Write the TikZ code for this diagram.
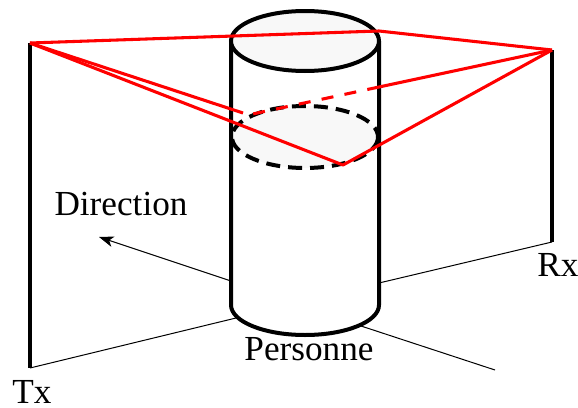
\documentclass[tikz,border=0pt]{standalone}
\usepackage{fontspec}
\setmainfont{Liberation Serif}
\usetikzlibrary{arrows.meta}
\definecolor{cylfill}{HTML}{F8F8F8}
\definecolor{rayred}{HTML}{FF0000}
\tikzset{
  thickline/.style={line width=3pt,black},
  pole/.style={line width=2.3pt,black},
  thinline/.style={line width=0.75pt,black},
  ray/.style={line width=2.3pt,rayred,line join=round},
  rayDashed/.style={ray,dash pattern=on 9pt off 8.5pt},
  hidden/.style={thickline,fill=cylfill,dash pattern=on 10.5pt off 6pt},
  lbl/.style={inner sep=0pt,font=\fontsize{26.4}{26.4}\selectfont}
}
\begin{document}
\begin{tikzpicture}[x=0.75pt,y=-0.75pt]
\useasboundingbox (0,0) rectangle (578,407);
% named points
\coordinate (txtop) at (30,43);
\coordinate (txbot) at (30,368);
\coordinate (rxtop) at (552,50);
\coordinate (rxbot) at (552,242);
\coordinate (cylL) at (231,41);
\coordinate (cylR) at (379,41);
\coordinate (botL) at (231,305);
\coordinate (botR) at (379,305);
\coordinate (hitTop) at (379,31);
\coordinate (hitBack) at (379,87);
\coordinate (hitBackL) at (248,115);
\coordinate (hitLeft) at (243,113);
\coordinate (hitFront) at (343,165);
\coordinate (groundTxEnd) at (236,318);
\coordinate (dirStart) at (231,281);
\coordinate (dirTip) at (99,237);
\coordinate (groundRx) at (379,283);
\coordinate (frontA) at (361,326);
\coordinate (frontB) at (495,370);
% thin ground lines
\draw[thinline] (txbot) -- (groundTxEnd);
\draw[thinline,-{Stealth[length=11pt,width=8pt,inset=3pt]}] (dirStart) -- (dirTip);
\draw[thinline] (groundRx) -- (rxbot);
\draw[thinline] (frontA) -- (frontB);
% poles
\draw[pole] (txtop) -- (txbot);
\draw[pole] (rxtop) -- (rxbot);
% middle dashed ellipse
\draw[hidden] (305,137) ellipse [x radius=73,y radius=31];
% cylinder
\draw[thickline,line join=round] (cylL) -- (botL) arc[start angle=180,end angle=0,x radius=74,y radius=30] -- (cylR);
\draw[thickline,fill=cylfill] (305,41) ellipse [x radius=74,y radius=30];
% rays
\draw[ray] (txtop) -- (hitTop) -- (rxtop);
\draw[ray] (txtop) -- (hitLeft);
\draw[ray] (txtop) -- (hitFront) -- (rxtop);
\draw[ray] (rxtop) -- (hitBack);
\draw[rayDashed] (hitBack) -- (hitBackL);
% labels
\node[lbl] (tx) at (32,392) {Tx};
\node[lbl] (rx) at (558,265) {Rx};
\node[lbl] (pers) at (309,349) {Personne};
\node[lbl] (dir) at (121,204) {Direction};
\end{tikzpicture}
\end{document}
